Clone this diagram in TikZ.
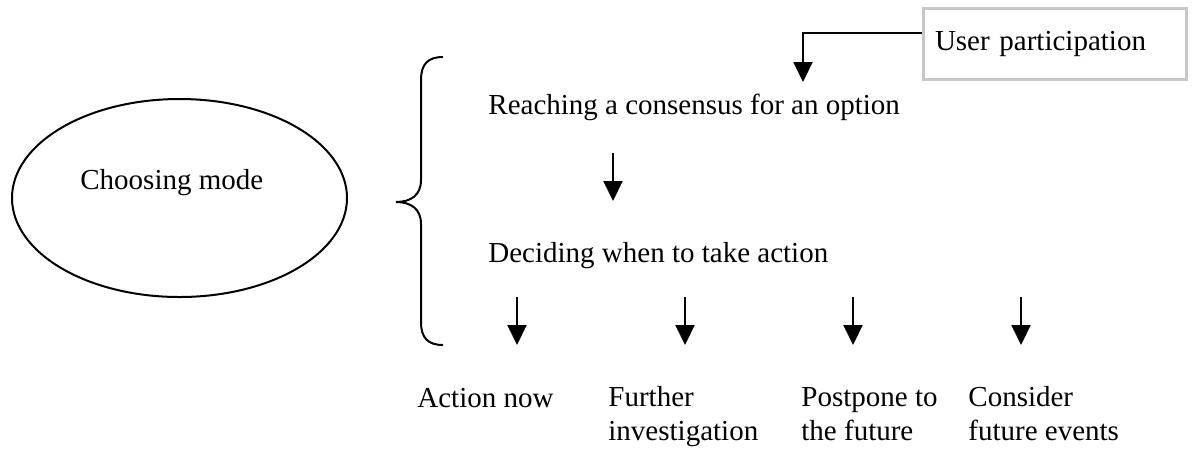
\documentclass[tikz,border=0pt]{standalone}
\usepackage{fontspec}
\setmainfont{Liberation Serif}
\usetikzlibrary{arrows.meta,shapes.geometric}
\begin{document}
\begin{tikzpicture}[x=0.5pt,y=-0.5pt,
  txt/.style={inner sep=0pt,font=\fontsize{14.5}{16.75}\selectfont},
  lbl/.style={txt,anchor=base west,align=left},
  arr/.style={line width=1pt,-{Triangle[length=10pt,width=9.5pt]}},
  ubox/.style={draw=black!22,line width=1.5pt,inner xsep=6pt,inner ysep=0pt,
    text width=119.5pt,minimum height=35.5pt,align=left,
    font=\fontsize{14.5}{16.75}\selectfont}]
\useasboundingbox (0,0) rectangle (1192,452);

% the mode and its bracket
\node[draw,ellipse,line width=1pt,minimum width=167.5pt,minimum height=99pt,inner sep=0pt] (cm) at (179.5,198) {};
\node[lbl] (cmt) at (80,189) {Choosing mode};
\draw[line width=1pt] (443,57) .. controls (428,57) and (421,64) .. (421,80)
  -- (421,180) .. controls (421,195) and (411,202) .. (396,202)
  .. controls (411,202) and (421,209) .. (421,224)
  -- (421,322) .. controls (421,338) and (428,345) .. (443,345);

% steps
\node[lbl] (reach) at (488,114) {Reaching a consensus for an option};
\node[lbl] (decide) at (488,262) {Deciding when to take action};
\node[ubox] (user) at (1054.5,43.5) {User participation};

\coordinate (usertip) at (803,82);
\draw[arr] ([yshift=5.25pt]user.west) -| (usertip);

\coordinate (s1) at (613,153);
\coordinate (e1) at (613,201);
\draw[arr] (s1) -- (e1);

% outcomes (two-line labels are placed by their last baseline)
\node[lbl] (now) at (417,407) {Action now};
\node[lbl] (further) at (608,440) {Further\\investigation};
\node[lbl] (postpone) at (801,440) {Postpone to\\the future};
\node[lbl] (consider) at (968,440) {Consider\\future events};

\foreach \x/\n in {517/a,685/b,853/c,1021/d}{
  \coordinate (\n s) at (\x,297);
  \coordinate (\n e) at (\x,345);
  \draw[arr] (\n s) -- (\n e);
}
\end{tikzpicture}
\end{document}
